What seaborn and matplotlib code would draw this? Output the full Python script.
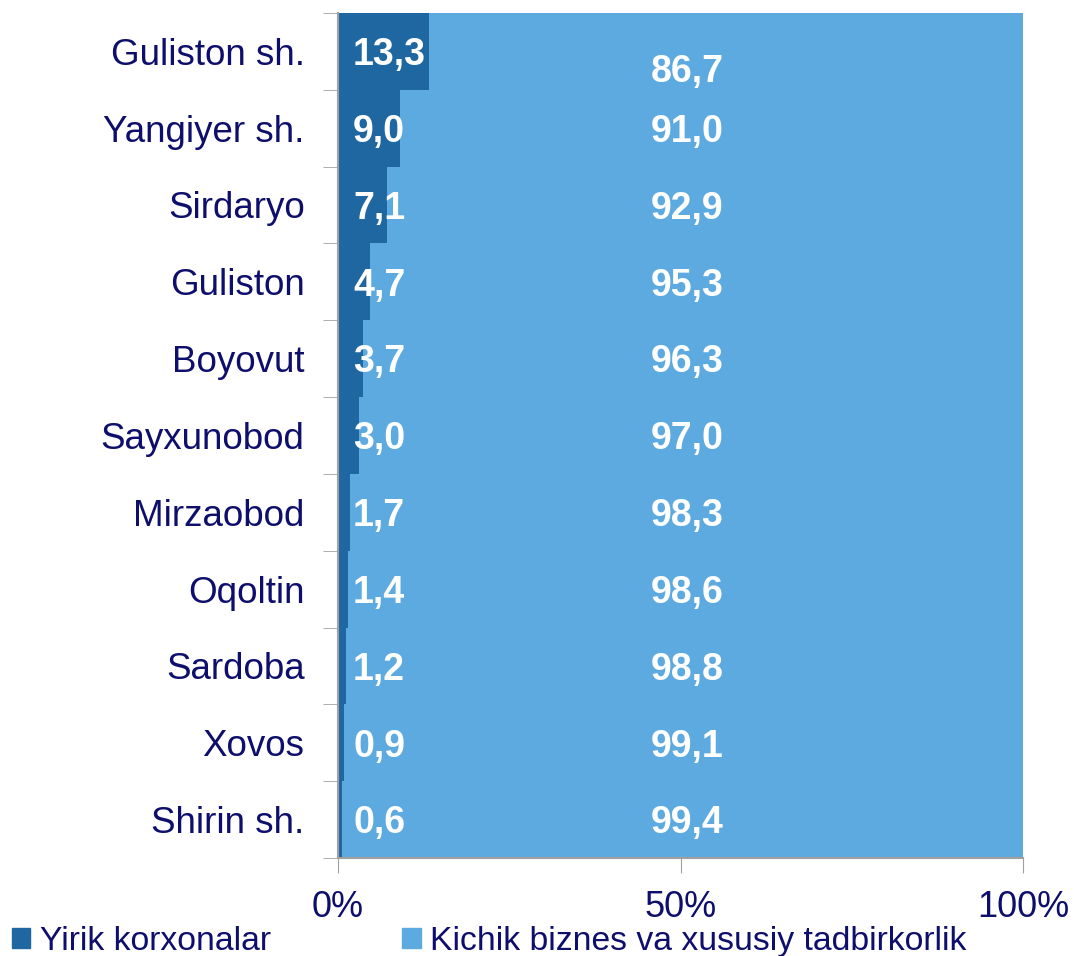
import pandas as pd
import numpy as np
import matplotlib.pyplot as plt
import seaborn as sns
from matplotlib.patches import Patch

districts = ["Guliston sh.", "Yangiyer sh.", "Sirdaryo", "Guliston", "Boyovut", "Sayxunobod",
             "Mirzaobod", "Oqoltin", "Sardoba", "Xovos", "Shirin sh."]
large = [13.3, 9.0, 7.1, 4.7, 3.7, 3.0, 1.7, 1.4, 1.2, 0.9, 0.6]
small = [86.7, 91.0, 92.9, 95.3, 96.3, 97.0, 98.3, 98.6, 98.8, 99.1, 99.4]
series_names = ["Yirik korxonalar", "Kichik biznes va xususiy tadbirkorlik"]
x_ticks = [0, 50, 100]
x_labels = ["0%", "50%", "100%"]

dark = "#1F67A1"
light = "#5DAAE0"
navy = "#0E0E6C"
gray = "#A0A0A0"

df = pd.DataFrame({"district": districts, "large": large, "small": small})
df["total"] = df["large"] + df["small"]

sns.set_style("white")
plt.rcParams["font.family"] = ["Liberation Sans", "DejaVu Sans"]

fig = plt.figure(figsize=(10.74, 9.56), dpi=100)
ax = fig.add_axes([0.3147, 0.1025, 0.638, 0.884])

# stacked: full bar in light colour, then the large-enterprise share on top
sns.barplot(data=df, y="district", x="total", color=light, width=1.0, orient="h",
            saturation=1, ax=ax, linewidth=0)
sns.barplot(data=df, y="district", x="large", color=dark, width=1.0, orient="h",
            saturation=1, ax=ax, linewidth=0)

for i, (a, b) in enumerate(zip(large, small)):
    ax.text(2.2, i + 0.05, f"{a:.1f}".replace(".", ","), color="white", fontsize=27,
            fontweight="bold", ha="left", va="center")
    ax.text(51.0, i + (0.27 if i == 0 else 0.05), f"{b:.1f}".replace(".", ","), color="white",
            fontsize=27, fontweight="bold", ha="center", va="center")

ax.set_xlim(0, 100)
ax.set_ylim(len(districts) - 0.5, -0.5)
ax.set_xticks(x_ticks)
ax.set_xticklabels(x_labels)
ax.set_yticks(np.arange(len(districts)))
ax.set_yticklabels(districts)
ax.set_yticks(np.arange(len(districts) + 1) - 0.5, minor=True)
ax.set_xlabel("")
ax.set_ylabel("")

ax.tick_params(axis="y", which="major", direction="in", length=8, color=gray,
               labelsize=26.5, labelcolor=navy, pad=24)
ax.tick_params(axis="y", which="minor", direction="out", length=11, color=gray, left=True)
ax.tick_params(axis="x", which="major", direction="out", length=11, color=gray,
               labelsize=26, labelcolor=navy, pad=12, bottom=True)

for s in ["top", "right"]:
    ax.spines[s].set_visible(False)
for s in ["left", "bottom"]:
    ax.spines[s].set_color(gray)
    ax.spines[s].set_linewidth(1.5)
    ax.spines[s].set_zorder(5)

handles = [Patch(color=dark), Patch(color=light)]
fig.legend(handles, series_names, loc="center left", bbox_to_anchor=(0.011, 0.015), ncol=2,
           frameon=False, fontsize=24.3, labelcolor=navy, handlelength=0.55, handleheight=0.55,
           handletextpad=0.28, columnspacing=3.9, borderaxespad=0, borderpad=0)

fig.savefig("out.png", dpi=100)
